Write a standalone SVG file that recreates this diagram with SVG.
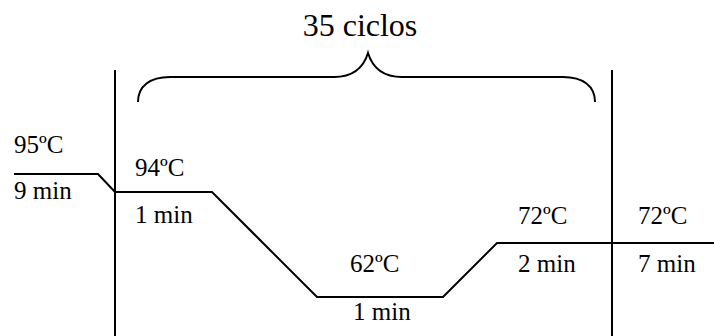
<svg xmlns="http://www.w3.org/2000/svg" width="714" height="336" viewBox="0 0 714 336">
<style>
.ln{fill:none;stroke:#000;stroke-width:2;stroke-linejoin:miter}
text{font-family:"Liberation Serif","Times New Roman",serif;font-size:25px;fill:#000}
.big{font-size:32px}
</style>
<rect width="714" height="336" fill="#fff"/>
<g id="connectors">
<line class="ln" x1="115" y1="70" x2="115" y2="336"/>
<line class="ln" x1="612" y1="70" x2="612" y2="336"/>
<path class="ln" d="M14,174 L98,174 L115,192 L212,192 L317,297 L443,297 L497,243 L714,243"/>
<path class="ln" d="M138,102 C138,86 150,77 170,77 L334,77 C354,77 364,66 368,53 C372,66 382,77 402,77 L563,77 C583,77 595,86 595,102"/>
</g>
<g id="title"><text class="big" x="360" y="36" text-anchor="middle">35 ciclos</text></g>
<g id="step1"><text x="14" y="153">95ºC</text><text x="14" y="199">9 min</text></g>
<g id="step2"><text x="135" y="176">94ºC</text><text x="135" y="223">1 min</text></g>
<g id="step3"><text x="350" y="272">62ºC</text><text x="353" y="320">1 min</text></g>
<g id="step4"><text x="518" y="224">72ºC</text><text x="518" y="272">2 min</text></g>
<g id="step5"><text x="638" y="224">72ºC</text><text x="638" y="272">7 min</text></g>
</svg>
